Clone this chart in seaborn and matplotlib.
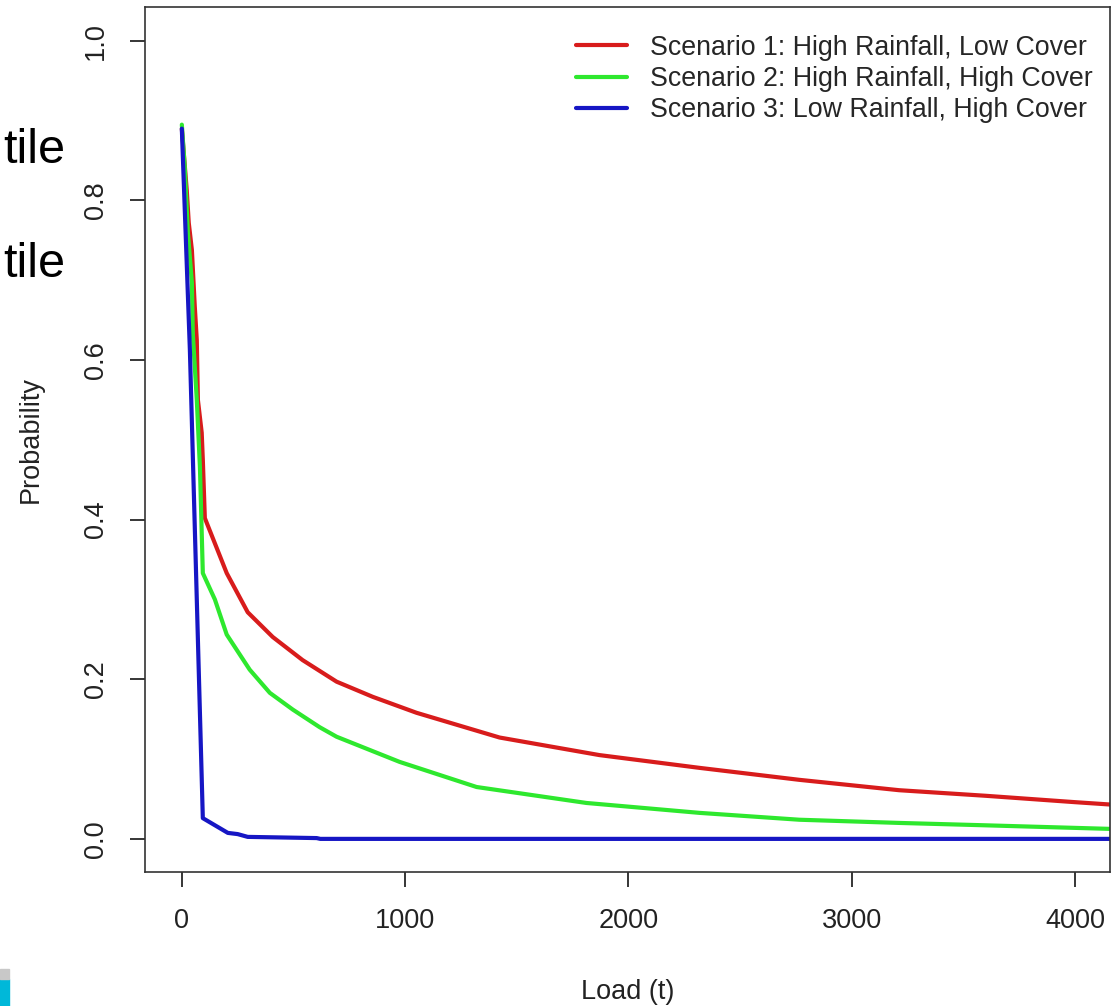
import pandas as pd
import seaborn as sns
from matplotlib import pyplot as plt
from matplotlib.patches import Rectangle

# Exceedance curves.
red_load = [0, 22, 31, 45, 58, 67, 72, 89, 94, 103, 201, 295, 407, 541, 693, 855,
            1051, 1423, 1870, 2318, 2765, 3212, 3600, 4000, 4160]
red_prob = [0.89, 0.813, 0.772, 0.738, 0.667, 0.625, 0.55, 0.509, 0.475, 0.402, 0.333,
            0.284, 0.253, 0.224, 0.197, 0.178, 0.158, 0.127, 0.105, 0.089, 0.074,
            0.061, 0.054, 0.046, 0.043]

green_load = [0, 13, 27, 45, 49, 67, 81, 94, 148, 201, 304, 394, 497, 617, 693, 975,
              1320, 1812, 2318, 2765, 3212, 3600, 4160]
green_prob = [0.895, 0.842, 0.76, 0.697, 0.634, 0.55, 0.466, 0.333, 0.30, 0.256, 0.212,
              0.183, 0.162, 0.140, 0.128, 0.0965, 0.065, 0.045, 0.0326, 0.024, 0.020,
              0.017, 0.0125]

blue_load = [0, 36, 67, 94, 206, 250, 295, 604, 620, 4160]
blue_prob = [0.89, 0.613, 0.30, 0.026, 0.0075, 0.006, 0.0025, 0.001, 0.0, 0.0]

scenarios = ["Scenario 1: High Rainfall, Low Cover",
             "Scenario 2: High Rainfall, High Cover",
             "Scenario 3: Low Rainfall, High Cover"]
colors = ["#d81c1c", "#2ee82e", "#1616c4"]

x_ticks = [0, 1000, 2000, 3000, 4000]
y_ticks = [0.0, 0.2, 0.4, 0.6, 0.8, 1.0]


def build_frame():
    parts = []
    for name, xs, ys in zip(scenarios, [red_load, green_load, blue_load],
                            [red_prob, green_prob, blue_prob]):
        parts.append(pd.DataFrame({"load": xs, "prob": ys, "scenario": name}))
    return pd.concat(parts, ignore_index=True)


if __name__ == "__main__":
    sns.set_style("ticks")
    plt.rcParams["font.family"] = ["Liberation Sans", "DejaVu Sans"]

    data = build_frame()

    fig = plt.figure(figsize=(11.11, 10.06), dpi=100)
    ax = fig.add_axes([0.1305, 0.1332, 0.8685, 0.86])

    sns.lineplot(data=data, x="load", y="prob", hue="scenario",
                 palette=dict(zip(scenarios, colors)), linewidth=3,
                 sort=False, estimator=None, ax=ax)

    ax.set_xlim(-165, 4156)
    ax.set_ylim(-0.0415, 1.0426)
    ax.set_xticks(x_ticks)
    ax.set_xticklabels([str(t) for t in x_ticks])
    ax.set_yticks(y_ticks)
    ax.set_yticklabels([f"{t:.1f}" for t in y_ticks])
    ax.tick_params(axis="both", length=11, width=1.1, color="black",
                   labelsize=19.5, pad=15, labelcolor="#222222")
    for lbl in ax.get_yticklabels():
        lbl.set_rotation(90)
        lbl.set_va("center")
    for side in ["left", "right", "top", "bottom"]:
        ax.spines[side].set_visible(True)
        ax.spines[side].set_color("#333333")
        ax.spines[side].set_linewidth(1.2)

    ax.set_xlabel("Load (t)", fontsize=19.5, labelpad=32, color="#222222")
    ax.set_ylabel("Probability", fontsize=19.5, labelpad=28, color="#222222")

    ax.legend(loc="upper right", frameon=False, fontsize=19.3, handlelength=1.9,
              handletextpad=0.85, labelspacing=0.2, borderaxespad=0.25,
              bbox_to_anchor=(1.0, 0.988))

    # Leftovers of the neighbouring slide in the screenshot.
    fig.text(0.003, 1 - 163 / 1006, "tile", fontsize=35, va="baseline", color="black")
    fig.text(0.003, 1 - 277 / 1006, "tile", fontsize=35, va="baseline", color="black")
    fig.patches.append(Rectangle((0, 0), 9 / 1111, 27 / 1006, transform=fig.transFigure,
                                 color="#00b8d9", zorder=5))
    fig.patches.append(Rectangle((0, 27 / 1006), 9 / 1111, 10 / 1006,
                                 transform=fig.transFigure, color="#c8c8c8", zorder=5))

    plt.savefig("out.png", dpi=100)
